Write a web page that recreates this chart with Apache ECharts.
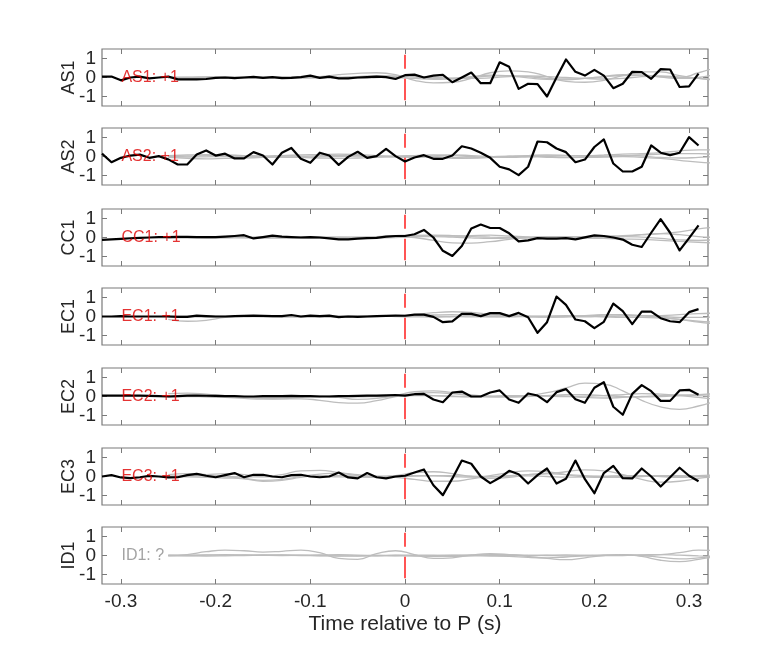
<!DOCTYPE html>
<html lang="en">
<head>
<meta charset="UTF-8">
<title>Time relative to P</title>
<style>
  html, body { margin: 0; padding: 0; background: #fff; }
  #chart { width: 782px; height: 657px; }
</style>
</head>
<body>
<div id="chart"></div>
<script src="https://cdn.jsdelivr.net/npm/echarts@6.0.0/dist/echarts.min.js"></script>
<script>
  // stations, one panel each
  const stations = ['AS1', 'AS2', 'CC1', 'EC1', 'EC2', 'EC3', 'ID1']
  const tags = ['AS1: +1', 'AS2: +1', 'CC1: +1', 'EC1: +1', 'EC2: +1', 'EC3: +1', 'ID1: ?']
  const xTicks = [-0.3, -0.2, -0.1, 0, 0.1, 0.2, 0.3]
  const yTicks = [-1, 0, 1]
  const pickTime = 0
  const pickHalf = 1.2
  const tagAt = [-0.3, 0]

  // black traces: sampled every 0.01 s from -0.32 s
  const t0 = -0.32
  const dt = 0.01
  const blackAS1 = [0.05, 0.05, -0.15, 0, 0.05, -0.05, 0, 0.05, -0.1, -0.1, -0.1, -0.08, -0.02, 0, -0.03, 0,
    0.03, -0.02, 0.02, -0.03, -0.02, 0.02, 0.1, -0.02, 0.05, -0.05, -0.05, 0, 0.02, 0.05, 0.02, -0.08,
    0.12, 0.15, 0, 0.1, 0.14, -0.25, 0, 0.26, -0.3, -0.3, 0.8, 0.56, -0.6, -0.33, -0.35, -1.0,
    0, 0.95, 0.3, 0.1, 0.4, 0.1, -0.56, -0.33, 0.3, 0.28, -0.07, 0.44, 0.42, -0.5, -0.47, 0.2]
  const blackAS2 = [0.15, -0.3, -0.07, 0.05, 0.1, -0.07, 0.02, -0.15, -0.42, -0.42, 0.1, 0.32, 0.05, 0.15, -0.1, -0.1,
    0.23, 0.05, -0.42, 0.2, 0.45, -0.12, -0.33, 0.2, 0.05, -0.44, -0.02, 0.25, -0.07, 0.02, 0.4, 0.02,
    -0.26, -0.05, 0.07, -0.12, -0.12, 0.05, 0.54, 0.42, 0.2, -0.07, -0.54, -0.68, -0.98, -0.54, 0.79, 0.75,
    0.42, 0.23, -0.3, -0.16, 0.5, 0.9, -0.37, -0.79, -0.79, -0.54, 0.58, 0.2, 0.07, 0.2, 1.02, 0.58]
  const blackCC1 = [-0.13, -0.1, -0.07, -0.04, -0.02, 0, 0.02, 0.02, 0.03, 0.03, 0.02, 0.02, 0.02, 0.05, 0.08, 0.12,
    -0.05, 0.02, 0.1, 0.05, 0.02, 0, 0.02, 0, -0.05, -0.1, -0.1, -0.06, -0.03, -0.02, 0.05, 0.08,
    0.08, 0.17, 0.4, 0, -0.7, -0.97, -0.45, 0.47, 0.68, 0.5, 0.5, 0.22, -0.2, -0.15, -0.03, -0.06,
    -0.06, -0.03, -0.1, 0.01, 0.11, 0.08, 0, -0.11, -0.38, -0.5, 0.25, 0.97, 0.25, -0.68, -0.03, 0.64]
  const blackEC1 = [0, 0, 0.02, 0, 0, 0, 0, 0, -0.02, -0.02, 0.05, 0.02, 0, 0, 0.02, 0.03,
    0.05, 0.03, 0.02, 0.02, 0.08, 0, 0.05, 0.02, 0.05, -0.03, 0, -0.02, 0, 0.02, 0.03, 0.05,
    0.04, 0.1, 0.1, -0.02, -0.3, -0.26, 0.14, 0.14, 0.02, 0.18, 0.18, 0.02, 0.19, -0.04, -0.86, -0.3,
    1.05, 0.61, -0.16, -0.25, -0.61, -0.28, 0.68, 0.28, -0.4, 0.26, 0.26, -0.09, -0.25, -0.3, 0.23, 0.39]
  const blackEC2 = [0.05, 0.05, 0.05, 0.05, 0.05, 0.03, 0.02, 0, 0.02, 0.05, 0.05, 0.04, 0.03, 0.02, 0.02, 0,
    0, 0.02, 0.02, 0.02, 0.03, 0.02, 0.02, 0, 0, 0.02, 0.02, 0.03, 0.05, 0.05, 0.06, 0.08,
    0.05, 0.12, 0.14, -0.16, -0.3, 0.21, 0.26, 0, 0, 0.21, 0.32, -0.16, -0.33, 0.16, 0.05, -0.3,
    0.23, 0.39, -0.14, -0.33, 0.46, 0.75, -0.54, -0.96, 0.14, 0.6, 0.28, -0.23, -0.23, 0.32, 0.35, 0.09]
  const blackEC3 = [0, 0.07, -0.05, -0.09, -0.04, 0.03, 0, -0.05, -0.04, 0.07, 0.14, 0.04, -0.04, 0.07, 0.18, -0.04,
    0.09, 0.09, 0, -0.04, 0.07, 0.09, 0, -0.04, 0, 0.21, -0.05, -0.1, 0.18, -0.04, -0.1, 0,
    0.04, 0.21, 0.37, -0.46, -0.98, -0.1, 0.84, 0.67, 0, -0.35, -0.07, 0.3, 0.12, -0.37, 0.07, 0.42,
    -0.37, -0.12, 0.84, -0.14, -0.88, 0.18, 0.56, -0.09, -0.1, 0.42, 0, -0.53, -0.04, 0.46, 0.04, -0.25]
  const blacks = [blackAS1, blackAS2, blackCC1, blackEC1, blackEC2, blackEC3, null]

  // gray traces share one time list
  const grayT = [-0.25, -0.23, -0.21, -0.19, -0.17, -0.15, -0.13, -0.11, -0.09, -0.07, -0.05, -0.03, -0.01, 0.01, 0.03,
    0.05, 0.07, 0.09, 0.11, 0.13, 0.15, 0.17, 0.19, 0.21, 0.23, 0.25, 0.27, 0.29, 0.31, 0.33]
  const grayAS1 = [
    [0, 0.02, 0.03, 0.02, 0, -0.02, 0, 0.03, 0.05, 0.15, 0.22, 0.25, 0.15, -0.15, -0.28, -0.25, -0.05, 0.25, 0.35, 0.3, 0.05, -0.2, -0.25, -0.15, 0.1, 0.3, 0.3, 0.1, -0.05, -0.15],
    [0, -0.03, -0.05, -0.03, 0, 0.02, 0.03, 0.02, 0, -0.03, 0.05, 0.1, 0.08, 0.02, -0.05, -0.08, 0, 0.08, 0.1, 0.05, -0.05, -0.08, -0.05, 0.05, 0.1, 0.12, 0.05, 0, 0.25, 0.55],
    [0, 0.01, 0, -0.02, -0.03, -0.01, 0.02, 0.02, 0, -0.02, -0.03, 0, 0.05, 0.05, 0, -0.03, -0.05, -0.02, 0.05, 0.08, 0.05, 0, -0.05, -0.08, -0.05, 0.05, 0.08, 0.02, -0.05, -0.12],
    [0, -0.01, 0.02, 0.03, 0.02, 0, -0.02, -0.03, -0.02, 0.02, 0.05, 0.03, 0, -0.05, -0.1, -0.05, 0.05, 0.12, 0.08, -0.02, -0.1, -0.12, -0.05, 0.05, 0.15, 0.12, 0.02, -0.05, 0, 0.2]
  ]
  const grayAS2 = [
    [0.05, 0.08, 0.1, 0.08, 0.05, 0.03, 0.05, 0.08, 0.1, 0.12, 0.1, 0.05, 0, -0.05, 0.02, 0.08, 0.05, 0, -0.05, -0.02, 0.03, 0.05, 0.05, 0.08, 0.12, 0.15, 0.2, 0.3, 0.35, 0.35],
    [-0.05, -0.1, -0.12, -0.1, -0.08, -0.05, -0.03, -0.05, -0.08, -0.1, -0.08, -0.05, 0, 0.05, 0, -0.05, -0.08, -0.05, 0, 0.03, 0, -0.03, -0.05, -0.03, 0, -0.05, -0.1, -0.2, -0.3, -0.35],
    [0, 0.02, 0.05, 0.06, 0.04, 0, -0.03, 0, 0.04, 0.06, 0.05, 0.02, 0.02, 0.05, 0.08, 0.05, 0, -0.03, 0, 0.05, 0.08, 0.06, 0.02, 0, 0.03, 0.08, 0.12, 0.15, 0.15, 0.1],
    [0, -0.03, -0.02, 0, 0.02, 0.01, -0.02, -0.04, -0.02, 0, 0.02, 0, -0.02, 0, -0.05, -0.1, -0.08, -0.02, 0.02, 0, -0.04, -0.06, -0.03, 0.02, 0.05, 0.02, -0.05, -0.08, -0.05, 0]
  ]
  const grayCC1 = [
    [0, 0.02, 0.03, 0.02, 0, -0.02, 0, 0.02, 0, -0.03, -0.02, 0.02, 0.05, 0, -0.15, -0.28, -0.3, -0.22, -0.1, 0, 0.05, 0.05, 0.02, 0, 0.05, 0.15, 0.2, 0.15, 0.05, 0],
    [0, -0.02, -0.03, -0.01, 0.02, 0.03, 0.01, -0.02, -0.03, -0.01, 0.02, 0.05, 0.1, 0.12, 0.1, 0.08, 0.1, 0.12, 0.08, 0.03, 0, 0.02, 0.05, 0.08, 0.1, 0.15, 0.2, 0.3, 0.45, 0.55],
    [0, 0.01, 0, -0.02, -0.02, 0, 0.02, 0.03, 0.01, -0.02, -0.03, -0.01, 0.02, 0.05, 0.05, 0.02, -0.02, -0.05, -0.03, 0, 0.02, 0, -0.03, -0.05, -0.08, -0.1, -0.15, -0.2, -0.25, -0.3],
    [0, 0, 0.02, 0.03, 0.01, -0.02, -0.03, -0.01, 0.02, 0.03, 0.01, -0.02, 0, 0.08, 0.12, 0.1, 0.05, 0.02, 0, -0.02, -0.03, -0.02, 0, 0.03, 0.05, 0.02, -0.05, -0.12, -0.15, -0.1]
  ]
  const grayEC1 = [
    [-0.15, -0.25, -0.2, -0.05, 0.02, 0.03, 0, -0.02, 0, 0.02, 0.03, 0.02, 0.05, 0.1, 0.2, 0.25, 0.22, 0.12, 0.05, 0, -0.03, -0.02, 0.02, 0.08, 0.1, 0.05, -0.05, -0.15, -0.25, -0.3],
    [0, 0.02, 0.03, 0.02, 0, -0.02, -0.03, -0.02, 0, 0.02, 0.03, 0.03, 0, -0.02, -0.03, 0, 0.05, 0.08, 0.05, 0, -0.03, 0, 0.05, 0.1, 0.08, 0.05, 0.05, 0.1, 0.15, 0.18],
    [0, -0.02, -0.03, -0.01, 0.02, 0.03, 0.02, 0, -0.02, -0.03, -0.02, 0, 0.03, 0.05, 0.08, 0.1, 0.05, 0, -0.02, 0, 0.02, 0.05, 0.03, -0.02, -0.05, -0.05, -0.08, -0.15, -0.3, -0.4],
    [0, 0.01, 0, -0.01, 0, 0.02, 0.02, 0, -0.02, -0.02, 0, 0.02, 0.02, 0.04, 0.02, 0, -0.02, -0.02, 0, 0.02, 0.02, 0, -0.02, 0, 0.02, 0.03, 0, -0.05, -0.05, 0]
  ]
  const grayEC2 = [
    [0, 0.05, 0.08, 0.05, 0, -0.05, -0.05, 0, 0.02, -0.05, -0.15, -0.1, 0.05, 0.25, 0.3, 0.2, 0.08, 0, -0.03, 0, 0.05, 0.1, 0.1, 0.05, 0, -0.02, 0, 0.05, 0.1, 0.15],
    [0.15, 0.18, 0.12, 0.02, -0.05, -0.1, -0.12, -0.12, -0.2, -0.32, -0.35, -0.22, 0, 0.15, 0.2, 0.15, 0.05, 0, 0.02, 0.05, 0.05, 0.02, -0.05, -0.08, -0.05, 0, 0.05, 0.08, 0.05, 0],
    [0, 0, -0.02, -0.05, -0.1, -0.14, -0.12, -0.05, 0, 0.02, 0, 0.02, 0.05, 0.08, 0.05, 0, -0.02, -0.02, 0, 0.05, 0.2, 0.45, 0.7, 0.65, 0.3, -0.2, -0.55, -0.68, -0.5, -0.2],
    [0, 0.02, 0, -0.02, -0.03, -0.02, 0, 0.02, 0.03, 0.02, 0, 0, 0.02, 0.05, 0.05, 0.02, 0, 0.02, 0.05, 0.05, 0.02, 0, 0.02, 0.05, 0.1, 0.15, 0.12, 0.05, -0.05, -0.15]
  ]
  const grayEC3 = [
    [0.1, 0.15, 0.1, 0, -0.1, -0.2, -0.15, 0, 0.12, 0.18, 0.1, 0, 0.05, 0.2, 0.25, 0.15, 0, -0.1, -0.05, 0.1, 0.15, 0.1, 0.05, 0, -0.05, 0, 0.05, 0.05, 0, -0.05],
    [0, 0.05, 0.1, 0.15, 0.1, 0, 0.1, 0.3, 0.32, 0.2, 0.05, 0, -0.05, -0.15, -0.25, -0.25, -0.12, 0.05, 0.2, 0.3, 0.25, 0.1, -0.02, -0.05, 0, 0.02, 0, -0.05, 0, 0.05],
    [0, -0.02, -0.05, -0.08, -0.12, -0.25, -0.2, -0.05, 0.05, 0.05, 0, -0.05, -0.02, 0.02, 0.05, 0.05, 0.02, 0, 0.05, 0.1, 0.15, 0.25, 0.35, 0.3, 0.1, -0.15, -0.3, -0.25, -0.1, 0],
    [0, 0.02, 0.03, 0.01, -0.02, -0.02, 0, 0.03, 0.02, -0.02, -0.03, 0, 0.03, 0.05, 0.03, 0, -0.03, -0.02, 0.02, 0.03, 0, -0.03, -0.02, 0.02, 0.05, 0.05, 0.02, 0, 0.05, 0.08]
  ]
  const grayID1 = [
    [0, 0.05, 0.2, 0.28, 0.25, 0.18, 0.22, 0.28, 0.15, -0.15, -0.2, 0.1, 0.25, 0.05, -0.15, -0.12, 0.02, 0.1, 0.05, -0.05, -0.15, -0.22, -0.12, 0, 0.05, -0.05, -0.25, -0.32, -0.2, -0.05],
    [0, 0.02, 0.03, 0.02, 0.02, 0.03, 0.02, 0, -0.02, -0.03, -0.02, 0, 0.02, 0, -0.05, -0.05, 0, 0.05, 0.05, 0.02, 0, -0.02, 0, 0.02, 0.03, 0.02, 0.05, 0.15, 0.28, 0.25],
    [0, -0.02, -0.03, -0.02, 0, 0.02, 0.03, 0.02, 0, -0.02, -0.03, -0.02, 0, 0.02, 0.02, 0, -0.02, -0.03, -0.05, -0.1, -0.12, -0.08, -0.02, 0.02, 0.03, 0, -0.1, -0.18, -0.12, 0],
    [0, 0, 0.02, 0.04, 0.03, 0.01, 0, 0.01, 0.03, 0.04, 0.02, 0, -0.02, -0.03, -0.01, 0.02, 0.03, 0.01, -0.01, 0, 0.02, 0.03, 0.01, -0.01, 0, 0.03, 0.05, 0.02, -0.02, -0.05]
  ]
  const grays = [grayAS1, grayAS2, grayCC1, grayEC1, grayEC2, grayEC3, grayID1]

  // layout
  const tops = [49, 128, 209, 288, 368, 448, 527]
  const panelH = 57
  const frame = '#7a7a7a'
  const ink = '#262626'
  const font = 'Liberation Sans, Arial, Helvetica, sans-serif'

  let chart = echarts.init(document.getElementById('chart'))

  function ticks(values) {
    return { show: true, inside: true, length: 5, customValues: values, lineStyle: { color: frame, width: 1 } }
  }
  // axes sit on the frame, never on the zero line
  const noLine = { show: false, onZero: false }

  let grids = [], xAxes = [], yAxes = [], series = []
  stations.forEach((name, i) => {
    let last = i === stations.length - 1
    grids.push({ left: 102, right: 74, top: tops[i], height: panelH, show: true, borderColor: frame, borderWidth: 1.2, containLabel: false })
    xAxes.push({
      gridIndex: i, type: 'value', min: -0.32, max: 0.32, position: 'bottom',
      axisLine: noLine, splitLine: { show: false }, axisTick: ticks(xTicks),
      axisLabel: last ? { show: true, customValues: xTicks, margin: 8, fontSize: 19, color: ink, fontFamily: font } : { show: false },
      name: last ? 'Time relative to P (s)' : '', nameLocation: 'middle', nameGap: 30, nameMoveOverlap: false,
      nameTextStyle: { fontSize: 21, color: ink, fontFamily: font }
    })
    xAxes.push({
      gridIndex: i, type: 'value', min: -0.32, max: 0.32, position: 'top',
      axisLine: noLine, splitLine: { show: false }, axisTick: ticks(xTicks), axisLabel: { show: false }
    })
    yAxes.push({
      gridIndex: i, type: 'value', min: -1.5, max: 1.5, position: 'left',
      axisLine: noLine, splitLine: { show: false }, axisTick: ticks(yTicks),
      axisLabel: { show: true, customValues: yTicks, margin: 6, fontSize: 19, color: ink, fontFamily: font },
      name: name, nameLocation: 'middle', nameGap: 24, nameRotate: 90, nameMoveOverlap: false,
      nameTextStyle: { fontSize: 18, color: ink, fontFamily: font }
    })
    yAxes.push({
      gridIndex: i, type: 'value', min: -1.5, max: 1.5, position: 'right',
      axisLine: noLine, splitLine: { show: false }, axisTick: ticks(yTicks), axisLabel: { show: false }
    })

    let xi = 2 * i, yi = 2 * i
    grays[i].forEach(g => {
      series.push({
        type: 'line', xAxisIndex: xi, yAxisIndex: yi, symbol: 'none', smooth: true, silent: true,
        data: grayT.map((t, k) => [t, g[k]]),
        lineStyle: { color: '#bdbdbd', width: 1.3 }, z: 2
      })
    })
    series.push({
      type: 'line', xAxisIndex: xi, yAxisIndex: yi, symbol: 'none', silent: true,
      data: [[pickTime, pickHalf], [pickTime, -pickHalf]],
      lineStyle: { color: '#ff2a2a', width: 1.6, type: [14, 10, 22, 10] }, z: 3
    })
    if (blacks[i]) {
      series.push({
        type: 'line', xAxisIndex: xi, yAxisIndex: yi, symbol: 'none', silent: true,
        data: blacks[i].map((v, k) => [+(t0 + k * dt).toFixed(2), v]),
        lineStyle: { color: '#000', width: 2.2, join: 'round' }, z: 4
      })
    }
    series.push({
      type: 'scatter', xAxisIndex: xi, yAxisIndex: yi, silent: true, symbolSize: 1,
      itemStyle: { color: 'transparent' }, data: [tagAt],
      label: {
        show: true, position: 'right', distance: 0, formatter: tags[i],
        fontSize: 16, fontFamily: font, color: blacks[i] ? '#dd0000' : '#8c8c8c'
      },
      z: 6
    })
  })

  chart.setOption({
    animation: false,
    backgroundColor: '#fff',
    grid: grids,
    xAxis: xAxes,
    yAxis: yAxes,
    series: series
  })
</script>
</body>
</html>
